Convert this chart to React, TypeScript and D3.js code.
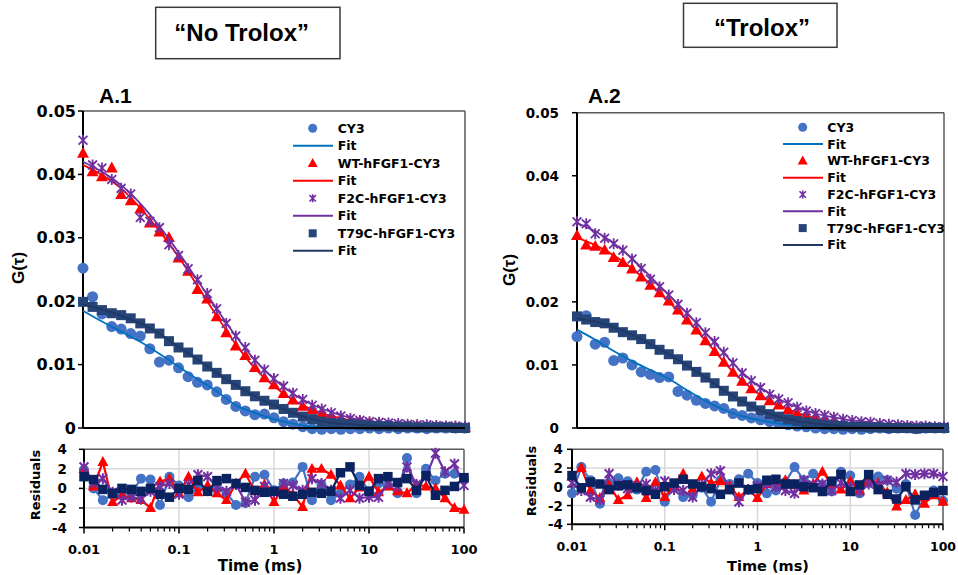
import React from "react";
import * as d3 from "d3";

// ---------- data ----------
const TIME = [0.01, 0.0126, 0.0158, 0.02, 0.0251, 0.0316, 0.0398, 0.0501, 0.0631, 0.0794, 0.1, 0.126, 0.158, 0.2, 0.251, 0.316, 0.398, 0.501, 0.631, 0.794, 1, 1.26, 1.58, 2, 2.51, 3.16, 3.98, 5.01, 6.31, 7.94, 10, 12.6, 15.8, 20, 25.1, 31.6, 39.8, 50.1, 63.1, 79.4, 100];
const FIT_TIME = [0.01, 0.0158, 0.0251, 0.0398, 0.0631, 0.1, 0.158, 0.251, 0.398, 0.631, 1, 1.58, 2.51, 3.98, 6.31, 10, 15.8, 25.1, 39.8, 63.1, 100];

const SERIES_NAMES = ["CY3", "WT-hFGF1-CY3", "F2C-hFGF1-CY3", "T79C-hFGF1-CY3"];
const PANEL_LABELS = ["A.1", "A.2"];
const CONDITION_TITLES = ["\u201CNo Trolox\u201D", "\u201CTrolox\u201D"];

const G_TICKS = [0, 0.01, 0.02, 0.03, 0.04, 0.05];
const G_TICK_LABELS = ["0", "0.01", "0.02", "0.03", "0.04", "0.05"];
const RES_TICKS = [-4, -2, 0, 2, 4];
const RES_GRID = [-2, 0, 2];
const TIME_TICKS = [0.01, 0.1, 1, 10, 100];
const TIME_TICK_LABELS = ["0.01", "0.1", "1", "10", "100"];
const TIME_GRID = [0.1, 1, 10];

// A.1 "No Trolox"
const A1_CY3 = [0.0252, 0.0207, 0.0180, 0.0160, 0.0156, 0.0149, 0.0145, 0.0125, 0.0104, 0.0107, 0.0095, 0.0081, 0.0072, 0.0068, 0.0057, 0.0045, 0.0034, 0.0027, 0.0021, 0.0022, 0.0016, 0.0010, 0.0006, 0.0002, -0.0001, -0.0002, -0.0001, -0.0002, -0.0001, -0.0001, 0.0000, -0.0001, 0.0000, -0.0001, 0.0000, 0.0000, -0.0001, 0.0000, 0.0000, 0.0000, 0.0000];
const A1_WT = [0.0433, 0.0404, 0.0396, 0.0410, 0.0368, 0.0358, 0.0345, 0.0323, 0.0309, 0.0300, 0.0268, 0.0247, 0.0218, 0.0203, 0.0175, 0.0150, 0.0129, 0.0114, 0.0095, 0.0079, 0.0068, 0.0054, 0.0044, 0.0034, 0.0029, 0.0023, 0.0018, 0.0015, 0.0012, 0.0010, 0.0008, 0.0006, 0.0005, 0.0004, 0.0003, 0.0003, 0.0002, 0.0002, 0.0001, 0.0001, 0.0001];
const A1_F2C = [0.0454, 0.0415, 0.0410, 0.0392, 0.0378, 0.0369, 0.0332, 0.0326, 0.0316, 0.0289, 0.0272, 0.0251, 0.0234, 0.0212, 0.0188, 0.0165, 0.0145, 0.0127, 0.0107, 0.0092, 0.0078, 0.0066, 0.0055, 0.0045, 0.0036, 0.0030, 0.0024, 0.0019, 0.0015, 0.0012, 0.0010, 0.0009, 0.0008, 0.0007, 0.0006, 0.0005, 0.0005, 0.0004, 0.0003, 0.0003, 0.0002];
const A1_T79C = [0.0199, 0.0191, 0.0186, 0.0181, 0.0178, 0.0173, 0.0165, 0.0157, 0.0149, 0.0137, 0.0127, 0.0119, 0.0108, 0.0097, 0.0087, 0.0077, 0.0068, 0.0058, 0.0050, 0.0043, 0.0037, 0.0030, 0.0024, 0.0018, 0.0014, 0.0010, 0.0008, 0.0007, 0.0006, 0.0005, 0.0004, 0.0003, 0.0003, 0.0002, 0.0002, 0.0001, 0.0001, 0.0001, 0.0001, 0.0000, 0.0000];

const A1_CY3_FIT = [0.0185, 0.0168, 0.0152, 0.0136, 0.0117, 0.0097, 0.0077, 0.0058, 0.0036, 0.0024, 0.0014, 0.0007, 0.0002, 0.0001, 0, 0, 0, 0, 0, 0, 0];
const A1_WT_FIT = [0.0415, 0.0399, 0.0378, 0.0347, 0.0311, 0.0270, 0.0224, 0.0177, 0.0132, 0.0094, 0.0066, 0.0044, 0.0029, 0.0019, 0.0012, 0.0008, 0.0005, 0.0003, 0.0002, 0.0001, 0.0001];
const A1_F2C_FIT = [0.0420, 0.0404, 0.0383, 0.0354, 0.0318, 0.0277, 0.0233, 0.0188, 0.0145, 0.0107, 0.0077, 0.0054, 0.0037, 0.0025, 0.0016, 0.0011, 0.0008, 0.0006, 0.0004, 0.0003, 0.0002];
const A1_T79C_FIT = [0.0195, 0.0187, 0.0177, 0.0165, 0.0149, 0.0128, 0.0108, 0.0087, 0.0067, 0.0050, 0.0036, 0.0024, 0.0014, 0.0008, 0.0006, 0.0004, 0.0003, 0.0002, 0.0001, 0.0001, 0];

const A1_CY3_RES = [1.9, 0.0, -1.2, -0.7, -0.4, -0.5, 1.0, 0.9, -1.7, 1.2, 0.3, -0.9, 0.2, -0.3, 0.1, -0.5, -1.7, -1.5, 1.2, 1.4, -0.2, 0.5, 0.6, 2.2, -1.2, 0.4, -1.2, -0.5, 0.4, 1.2, -0.3, 0.5, 0.3, -0.5, 3.1, -0.5, 2.0, 0.8, 1.5, 1.5, 1.0];
const A1_WT_RES = [2.0, 0.2, 2.7, -1.4, -0.7, -1.0, -1.2, -2.0, 0.7, 1.0, -0.5, 1.2, -0.4, 0.3, -0.5, -1.2, 0.5, 1.5, -0.3, 0.4, -1.4, 0.2, -0.6, -1.9, 2.0, 2.0, 1.4, 0.3, -1.0, 0.1, 1.2, -0.4, 0.2, -0.3, -0.5, 0.4, 0.2, 0.0, -1.0, -2.0, -2.2];
const A1_F2C_RES = [2.2, 0.6, 1.0, -0.4, -1.2, -0.9, -1.1, -0.3, 0.2, 0.5, -0.6, 0.4, 1.4, 1.2, 0.1, -0.3, 0.4, -1.4, -1.2, 0.2, -0.4, 0.5, 0.3, -0.2, 1.0, 0.5, -0.2, -1.0, -0.2, -1.0, -0.9, -0.9, 0.5, 0.2, 2.2, 0.4, 1.2, 3.6, 1.7, 2.5, 0.3];
const A1_T79C_RES = [1.2, 0.9, -0.1, -0.5, 0.0, -0.1, -0.3, 0.0, -0.6, -0.9, 0.0, -0.1, 0.8, -0.3, 0.8, 1.0, 0.5, 0.1, -0.2, -0.4, -0.3, -0.6, -0.8, -0.6, -0.4, -0.5, -0.3, 1.6, 2.2, 0.3, -0.3, 1.0, 1.2, 0.6, 1.0, -0.2, 1.3, -0.7, -0.2, 0.2, 1.1];

// A.2 "Trolox"
const A2_CY3 = [0.0145, 0.0178, 0.0133, 0.0136, 0.0107, 0.0111, 0.0100, 0.0089, 0.0085, 0.0080, 0.0081, 0.0058, 0.0052, 0.0044, 0.0039, 0.0035, 0.0031, 0.0023, 0.0020, 0.0016, 0.0013, 0.0010, 0.0007, 0.0005, 0.0003, 0.0002, 0.0000, -0.0001, -0.0001, -0.0002, -0.0001, -0.0002, -0.0001, 0.0000, -0.0001, 0.0000, 0.0000, -0.0001, 0.0000, 0.0000, 0.0000];
const A2_WT = [0.0305, 0.0290, 0.0288, 0.0282, 0.0270, 0.0262, 0.0252, 0.0239, 0.0226, 0.0214, 0.0201, 0.0187, 0.0171, 0.0155, 0.0138, 0.0121, 0.0104, 0.0088, 0.0074, 0.0062, 0.0051, 0.0043, 0.0036, 0.0029, 0.0023, 0.0019, 0.0015, 0.0012, 0.0009, 0.0007, 0.0005, 0.0004, 0.0003, 0.0002, 0.0001, 0.0001, 0.0001, 0.0000, 0.0000, 0.0000, 0.0000];
const A2_F2C = [0.0327, 0.0324, 0.0308, 0.0301, 0.0292, 0.0282, 0.0268, 0.0253, 0.0236, 0.0224, 0.0211, 0.0196, 0.0182, 0.0167, 0.0151, 0.0137, 0.0120, 0.0103, 0.0087, 0.0075, 0.0064, 0.0053, 0.0046, 0.0040, 0.0033, 0.0027, 0.0023, 0.0020, 0.0017, 0.0014, 0.0012, 0.0010, 0.0009, 0.0007, 0.0006, 0.0005, 0.0004, 0.0003, 0.0003, 0.0002, 0.0002];
const A2_T79C = [0.0177, 0.0172, 0.0168, 0.0166, 0.0159, 0.0152, 0.0147, 0.0141, 0.0133, 0.0124, 0.0117, 0.0109, 0.0099, 0.0089, 0.0080, 0.0071, 0.0059, 0.0050, 0.0042, 0.0034, 0.0028, 0.0022, 0.0018, 0.0014, 0.0011, 0.0009, 0.0007, 0.0005, 0.0004, 0.0003, 0.0002, 0.0002, 0.0001, 0.0001, 0.0000, 0.0000, 0.0000, -0.0001, 0.0000, 0.0000, 0.0000];

const A2_CY3_FIT = [0.0156, 0.0140, 0.0122, 0.0106, 0.0092, 0.0078, 0.0060, 0.0043, 0.0029, 0.0019, 0.0012, 0.0007, 0.0004, 0.0002, 0.0001, 0.0001, 0, 0, 0, 0, 0];
const A2_WT_FIT = [0.0302, 0.0290, 0.0274, 0.0253, 0.0228, 0.0200, 0.0171, 0.0139, 0.0105, 0.0075, 0.0052, 0.0036, 0.0024, 0.0015, 0.0009, 0.0005, 0.0003, 0.0002, 0.0001, 0.0001, 0];
const A2_F2C_FIT = [0.0325, 0.0312, 0.0293, 0.0269, 0.0240, 0.0211, 0.0182, 0.0151, 0.0119, 0.0088, 0.0064, 0.0046, 0.0033, 0.0023, 0.0017, 0.0012, 0.0009, 0.0006, 0.0004, 0.0003, 0.0002];
const A2_T79C_FIT = [0.0174, 0.0169, 0.0160, 0.0148, 0.0133, 0.0117, 0.0099, 0.0080, 0.0060, 0.0042, 0.0028, 0.0018, 0.0011, 0.0007, 0.0004, 0.0002, 0.0001, 0.0001, 0, 0, 0];

const A2_CY3_RES = [-0.7, 2.1, 0.7, -1.8, 0.4, 0.9, 0.6, -0.3, 1.6, 1.8, -1.6, 0.2, -1.1, -0.9, -0.1, -1.6, 0.7, 0.3, 0.8, 1.4, 0.4, -0.7, -0.4, 0.5, 2.1, 0.7, 1.4, 0.2, -0.5, 1.6, 1.2, -0.7, 0.4, 1.1, 0.7, -0.2, 0.3, -3.0, -1.1, -0.4, -1.5];
const A2_WT_RES = [1.1, 2.0, -0.4, -1.2, 0.2, -1.4, -0.9, 0.5, -1.2, 0.5, -1.1, 0.2, 1.4, -0.2, 1.1, 0.4, 0.6, 0.1, -1.1, -0.3, -1.2, 0.3, 0.5, 0.7, 0.2, -0.4, 0.3, 1.6, 0.3, -0.3, 0.6, -0.4, 0.7, 0.4, -0.6, -2.1, -1.4, -0.8, -1.8, -0.9, -1.6];
const A2_F2C_RES = [0.4, -0.4, -1.1, -1.4, 1.4, 0.2, -0.2, 0.1, 0.3, -0.4, 0.6, -0.3, -0.4, -1.1, 0.2, 1.4, 1.7, -0.2, -1.6, -0.3, 0.1, 0.3, 0.0, -0.4, -0.7, 0.7, 0.2, 0.3, -0.4, 0.4, 0.0, -0.5, 0.3, 0.2, 0.7, 0.5, 1.4, 1.3, 1.4, 1.4, 1.1];
const A2_T79C_RES = [1.2, -0.1, 0.5, 0.3, -0.3, 0.1, 0.2, -0.1, -0.4, -0.8, 0.0, 0.4, 0.8, 0.3, 0.0, -0.2, -0.8, -0.3, 0.4, -0.3, -0.2, 0.7, 0.8, 0.3, 0.3, 0.0, -0.1, -0.5, 0.6, 1.3, -0.5, 0.2, 1.3, -0.3, -0.8, -1.3, 0.0, -1.4, -0.9, -0.6, -0.4];

// ---------- styles & layout ----------
const FONT = "'DejaVu Sans', 'Liberation Sans', sans-serif";
const TITLE_FONT = "'Liberation Sans', Arial, sans-serif";

const SERIES_STYLES = [
  { kind: "circle", color: "#4472C4", fit: "#0070C0", res: "#4472C4" },
  { kind: "triangle", color: "#FF0000", fit: "#FF0000", res: "#FF0000" },
  { kind: "star", color: "#7030A0", fit: "#7030A0", res: "#7030A0" },
  { kind: "square", color: "#264478", fit: "#1F3864", res: "#0B2260" },
];

const LAYOUTS = [
  {
    title: { x: 155.7, y: 7.3, w: 184.3, h: 51.4, tx: 241.7, ty: 40.7 },
    main: { left: 83, right: 465, top: 111, bottom: 428 },
    res: { left: 84, right: 464, top: 449.3, bottom: 527.5 },
    labelX: 99, labelY: 103,
    gX: 18.5, gY: 268,
    mainTickRight: 76, mainTickFont: 16,
    resTickRight: 67, resTickFont: 13.5,
    resLabelX: 35, resLabelY: 485,
    xTickY: 554, xTickFont: 13,
    timeX: 260, timeY: 571, timeFont: 15,
    legend: { markerX: 312.7, textX: 337.7, lineX0: 293, lineX1: 333, y0: 128.3, dy: 17.5 },
  },
  {
    title: { x: 683.5, y: 3.3, w: 153.5, h: 44, tx: 762, ty: 36 },
    main: { left: 577, right: 944, top: 112.7, bottom: 428 },
    res: { left: 572, right: 943, top: 449.3, bottom: 524.3 },
    labelX: 588, labelY: 103,
    gX: 509, gY: 270,
    mainTickRight: 559, mainTickFont: 13.5,
    resTickRight: 563, resTickFont: 13.5,
    resLabelX: 531, resLabelY: 481,
    xTickY: 551, xTickFont: 12.5,
    timeX: 768, timeY: 571, timeFont: 14.5,
    legend: { markerX: 802.7, textX: 827.3, lineX0: 783, lineX1: 823, y0: 127.3, dy: 16.8 },
  },
];

const PANEL_DATA = [
  {
    data: [A1_CY3, A1_WT, A1_F2C, A1_T79C],
    fits: [A1_CY3_FIT, A1_WT_FIT, A1_F2C_FIT, A1_T79C_FIT],
    res: [A1_CY3_RES, A1_WT_RES, A1_F2C_RES, A1_T79C_RES],
  },
  {
    data: [A2_CY3, A2_WT, A2_F2C, A2_T79C],
    fits: [A2_CY3_FIT, A2_WT_FIT, A2_F2C_FIT, A2_T79C_FIT],
    res: [A2_CY3_RES, A2_WT_RES, A2_F2C_RES, A2_T79C_RES],
  },
];

function Marker({ kind, x, y, size, color, sw = 1.8 }: { kind: string; x: number; y: number; size: number; color: string; sw?: number }) {
  if (kind === "circle") return <circle cx={x} cy={y} r={size / 2} fill={color} />;
  if (kind === "square") return <rect x={x - size / 2} y={y - size / 2} width={size} height={size} fill={color} />;
  if (kind === "triangle") {
    const h = size * 0.9;
    return <path d={`M${x},${y - h * 0.6}L${x + size / 2},${y + h * 0.4}L${x - size / 2},${y + h * 0.4}Z`} fill={color} />;
  }
  const s = size / 2;
  const a = s * 0.8;
  return (
    <path
      d={`M${x - a},${y - a}L${x + a},${y + a}M${x - a},${y + a}L${x + a},${y - a}M${x},${y - s}L${x},${y + s}`}
      stroke={color}
      strokeWidth={sw}
      fill="none"
    />
  );
}

const MAIN_SIZES: Record<string, number> = { circle: 11, square: 10, triangle: 12, star: 11 };
const RES_SIZES: Record<string, number> = { circle: 10, square: 9.5, triangle: 11, star: 11 };
const LEG_SIZES: Record<string, number> = { circle: 9, square: 8, triangle: 10, star: 8 };

function Panel({ idx }: { idx: number }) {
  const L = LAYOUTS[idx];
  const D = PANEL_DATA[idx];
  const x = d3.scaleLog().domain([0.01, 100]).range([L.main.left, L.main.right]);
  const y = d3.scaleLinear().domain([0, 0.05]).range([L.main.bottom, L.main.top]);
  const xr = d3.scaleLog().domain([0.01, 100]).range([L.res.left, L.res.right]);
  const yr = d3.scaleLinear().domain([-4, 4]).range([L.res.bottom, L.res.top]);

  const fitLine = d3
    .line<number>()
    .x((_, i) => x(FIT_TIME[i]))
    .y((v) => y(v))
    .curve(d3.curveMonotoneX);
  const resLine = d3
    .line<number>()
    .x((_, i) => xr(TIME[i]))
    .y((v) => yr(v));

  const minorTicks = xr.ticks().filter((t) => !TIME_TICKS.some((m) => Math.abs(m - t) / m < 1e-6));

  return (
    <g>
      {/* condition title */}
      <rect x={L.title.x} y={L.title.y} width={L.title.w} height={L.title.h} fill="none" stroke="#3a3a3a" strokeWidth={1.5} />
      <text x={L.title.tx} y={L.title.ty} textAnchor="middle" fontFamily={TITLE_FONT} fontWeight="bold" fontSize={24} fill="#000">
        {CONDITION_TITLES[idx]}
      </text>

      {/* panel label */}
      <text x={L.labelX} y={L.labelY} fontFamily={TITLE_FONT} fontWeight="bold" fontSize={21} fill="#000">
        {PANEL_LABELS[idx]}
      </text>

      {/* main plot frame */}
      <line x1={L.main.left} x2={L.main.right} y1={L.main.top} y2={L.main.top} stroke="#595959" strokeWidth={1.5} />
      <line x1={L.main.right} x2={L.main.right} y1={L.main.top} y2={L.main.bottom} stroke="#595959" strokeWidth={1.5} />
      <line x1={L.main.left} x2={L.main.left} y1={L.main.top} y2={L.main.bottom} stroke="#000" strokeWidth={2} />
      {G_TICKS.map((t, i) => (
        <g key={"gt" + i}>
          <line x1={L.main.left - 5} x2={L.main.left} y1={y(t)} y2={y(t)} stroke="#000" strokeWidth={1.5} />
          <text
            x={L.mainTickRight}
            y={y(t)}
            textAnchor="end"
            dominantBaseline="central"
            fontFamily={FONT}
            fontWeight="bold"
            fontSize={L.mainTickFont}
            fill="#000"
          >
            {G_TICK_LABELS[i]}
          </text>
        </g>
      ))}
      <text
        transform={`translate(${L.gX},${L.gY}) rotate(-90)`}
        textAnchor="middle"
        dominantBaseline="central"
        fontFamily={TITLE_FONT}
        fontWeight="bold"
        fontSize={17}
        fill="#000"
      >
        G(τ)
      </text>

      {/* main series */}
      {D.data.map((arr, s) => {
        const st = SERIES_STYLES[s];
        return (
          <g key={"ms" + s}>
            {arr.map((v, i) => (
              <Marker key={i} kind={st.kind} x={x(TIME[i])} y={y(v)} size={MAIN_SIZES[st.kind]} color={st.color} />
            ))}
            <path d={fitLine(D.fits[s]) || ""} fill="none" stroke={st.fit} strokeWidth={1.8} />
          </g>
        );
      })}
      <line x1={L.main.left} x2={L.main.right} y1={L.main.bottom} y2={L.main.bottom} stroke="#000" strokeWidth={2} />

      {/* legend */}
      {SERIES_NAMES.map((name, s) => {
        const st = SERIES_STYLES[s];
        const lg = L.legend;
        const y1 = lg.y0 + lg.dy * 2 * s;
        const y2 = y1 + lg.dy;
        return (
          <g key={"lg" + s}>
            <Marker kind={st.kind} x={lg.markerX} y={y1} size={LEG_SIZES[st.kind]} color={st.color} sw={1.6} />
            <text x={lg.textX} y={y1} dominantBaseline="central" fontFamily={FONT} fontWeight="bold" fontSize={12.5} fill="#000">
              {name}
            </text>
            <line x1={lg.lineX0} x2={lg.lineX1} y1={y2} y2={y2} stroke={st.fit} strokeWidth={2} />
            <text x={lg.textX} y={y2} dominantBaseline="central" fontFamily={FONT} fontWeight="bold" fontSize={12.5} fill="#000">
              Fit
            </text>
          </g>
        );
      })}

      {/* residual plot */}
      {RES_GRID.map((g) => (
        <line key={"rg" + g} x1={L.res.left} x2={L.res.right} y1={yr(g)} y2={yr(g)} stroke="#D9D9D9" strokeWidth={1.5} />
      ))}
      {TIME_GRID.map((g) => (
        <line key={"tg" + g} x1={xr(g)} x2={xr(g)} y1={L.res.top} y2={L.res.bottom} stroke="#D9D9D9" strokeWidth={1.5} />
      ))}
      <line x1={L.res.left} x2={L.res.right} y1={L.res.top} y2={L.res.top} stroke="#595959" strokeWidth={1.5} />
      <line x1={L.res.right} x2={L.res.right} y1={L.res.top} y2={L.res.bottom} stroke="#595959" strokeWidth={1.5} />
      <line x1={L.res.left} x2={L.res.left} y1={L.res.top} y2={L.res.bottom} stroke="#000" strokeWidth={2} />
      <line x1={L.res.left} x2={L.res.right} y1={L.res.bottom} y2={L.res.bottom} stroke="#000" strokeWidth={2} />
      {RES_TICKS.map((t) => (
        <g key={"rt" + t}>
          <line x1={L.res.left - 5} x2={L.res.left} y1={yr(t)} y2={yr(t)} stroke="#000" strokeWidth={1.5} />
          <text
            x={L.resTickRight}
            y={yr(t)}
            textAnchor="end"
            dominantBaseline="central"
            fontFamily={FONT}
            fontWeight="bold"
            fontSize={L.resTickFont}
            fill="#000"
          >
            {t}
          </text>
        </g>
      ))}
      {TIME_TICKS.map((t, i) => (
        <g key={"xt" + i}>
          <line x1={xr(t)} x2={xr(t)} y1={L.res.bottom} y2={L.res.bottom + 6} stroke="#000" strokeWidth={1.5} />
          <text x={xr(t)} y={L.xTickY} textAnchor="middle" fontFamily={FONT} fontWeight="bold" fontSize={L.xTickFont} fill="#000">
            {TIME_TICK_LABELS[i]}
          </text>
        </g>
      ))}
      {minorTicks.map((t, i) => (
        <line key={"mt" + i} x1={xr(t)} x2={xr(t)} y1={L.res.bottom} y2={L.res.bottom + 4} stroke="#000" strokeWidth={1.2} />
      ))}
      <text
        transform={`translate(${L.resLabelX},${L.resLabelY}) rotate(-90)`}
        textAnchor="middle"
        dominantBaseline="central"
        fontFamily={FONT}
        fontWeight="bold"
        fontSize={13}
        fill="#000"
      >
        Residuals
      </text>
      <text x={L.timeX} y={L.timeY} textAnchor="middle" fontFamily={FONT} fontWeight="bold" fontSize={L.timeFont} fill="#000">
        Time (ms)
      </text>

      {D.res.map((arr, s) => {
        const st = SERIES_STYLES[s];
        return (
          <g key={"rs" + s}>
            <path d={resLine(arr) || ""} fill="none" stroke={st.res} strokeWidth={2.2} />
            {arr.map((v, i) => (
              <Marker key={i} kind={st.kind} x={xr(TIME[i])} y={yr(v)} size={RES_SIZES[st.kind]} color={st.res} sw={2} />
            ))}
          </g>
        );
      })}
    </g>
  );
}

export default function App() {
  return (
    <svg
      width={958}
      height={575}
      viewBox="0 0 958 575"
      style={{ position: "absolute", left: 0, top: 0, display: "block", background: "#fff" }}
    >
      <rect x={0} y={0} width={958} height={575} fill="#fff" />
      <Panel idx={0} />
      <Panel idx={1} />
    </svg>
  );
}
